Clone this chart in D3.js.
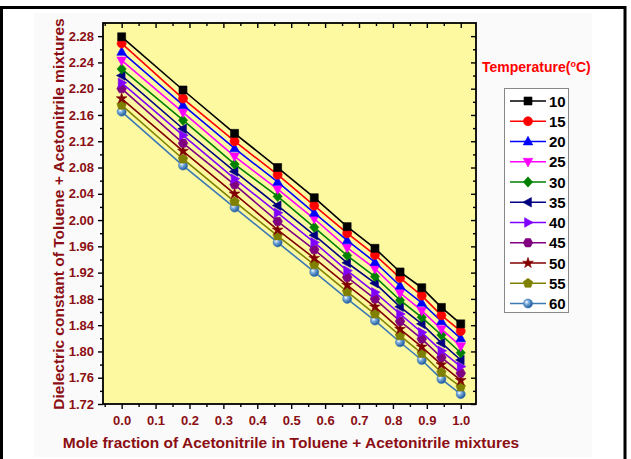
<!DOCTYPE html>
<html>
<head>
<meta charset="utf-8">
<script src="https://cdn.jsdelivr.net/npm/d3@7"></script>
<style>
  html, body { margin: 0; padding: 0; background: #ffffff; }
  svg { display: block; }
  text { font-family: Arial, "Liberation Sans", sans-serif; font-weight: bold; }
</style>
</head>
<body>
<svg id="chart" width="631" height="459"></svg>
<script>
// Mole fraction of acetonitrile
const moleFraction = [0, 0.181, 0.333, 0.460, 0.568, 0.665, 0.747, 0.821, 0.885, 0.943, 1.0];

// Temperatures (°C) for each series
const temperatures = [10, 15, 20, 25, 30, 35, 40, 45, 50, 55, 60];

// Dielectric constant per temperature
const eps10 = [2.279, 2.198, 2.132, 2.080, 2.034, 1.990, 1.957, 1.921, 1.897, 1.867, 1.842];
const eps15 = [2.269, 2.185, 2.120, 2.069, 2.022, 1.980, 1.947, 1.912, 1.885, 1.855, 1.831];
const eps20 = [2.256, 2.175, 2.109, 2.058, 2.011, 1.969, 1.936, 1.900, 1.874, 1.846, 1.820];
const eps25 = [2.243, 2.164, 2.097, 2.047, 2.002, 1.958, 1.926, 1.889, 1.862, 1.834, 1.808];
const eps30 = [2.230, 2.152, 2.085, 2.036, 1.989, 1.946, 1.914, 1.878, 1.852, 1.825, 1.798];
const eps35 = [2.220, 2.139, 2.074, 2.022, 1.977, 1.935, 1.904, 1.868, 1.842, 1.813, 1.787];
const eps40 = [2.209, 2.129, 2.063, 2.011, 1.966, 1.923, 1.890, 1.857, 1.829, 1.801, 1.777];
const eps45 = [2.200, 2.117, 2.054, 1.998, 1.955, 1.913, 1.880, 1.846, 1.819, 1.791, 1.767];
const eps50 = [2.185, 2.105, 2.040, 1.985, 1.942, 1.901, 1.868, 1.834, 1.807, 1.780, 1.756];
const eps55 = [2.175, 2.093, 2.028, 1.976, 1.932, 1.891, 1.857, 1.824, 1.797, 1.768, 1.746];
const eps60 = [2.165, 2.083, 2.019, 1.966, 1.921, 1.880, 1.847, 1.814, 1.787, 1.758, 1.735];

// Axis tick labels
const xTickValues = [0, 0.1, 0.2, 0.3, 0.4, 0.5, 0.6, 0.7, 0.8, 0.9, 1.0];
const yTickValues = [1.72, 1.76, 1.80, 1.84, 1.88, 1.92, 1.96, 2.00, 2.04, 2.08, 2.12, 2.16, 2.20, 2.24, 2.28];

const seriesValues = [eps10, eps15, eps20, eps25, eps30, eps35, eps40, eps45, eps50, eps55, eps60];
const colors = ["#000000", "#ff0000", "#0000ff", "#ff00ff", "#008000", "#000080",
                "#8000ff", "#800080", "#800000", "#808000", "#3c78b4"];
const shapes = ["square", "circle", "triUp", "triDown", "diamond", "triLeft",
                "triRight", "hexagon", "star", "pentagon", "sphere"];

const series = temperatures.map((t, i) => ({
  temp: t, color: colors[i], shape: shapes[i],
  points: moleFraction.map((x, j) => ({ x, y: seriesValues[i][j] }))
}));

const svg = d3.select("#chart");
const wine = "#8b0f14";

// page frame
svg.append("rect").attr("x", 34).attr("y", 13).attr("width", 558).attr("height", 444).attr("fill", "#fafafa");
svg.append("path").attr("d", "M1.5,459 V7.5 H625 V459")
  .attr("fill", "none").attr("stroke", "#000").attr("stroke-width", 3);

const plot = { left: 103, right: 476, top: 23, bottom: 404 };

const x = d3.scaleLinear().domain([-0.055, 1.045]).range([plot.left, plot.right]);
const y = d3.scaleLinear().domain([1.72, 2.30]).range([plot.bottom, plot.top]);

// plot background
svg.append("rect")
  .attr("x", plot.left).attr("y", plot.top)
  .attr("width", plot.right - plot.left).attr("height", plot.bottom - plot.top)
  .attr("fill", "#fcf9a0");

// minor tick positions
const xMinor = d3.range(0.05, 1.0, 0.1).map(v => +v.toFixed(2)).concat([-0.05]);
const yMinor = d3.range(1.74, 2.30, 0.04).map(v => +v.toFixed(2));

function styleAxis(g, showLabels) {
  g.select(".domain").remove();
  g.selectAll(".tick line").attr("stroke", "#000").attr("stroke-width", 1.4);
  g.selectAll(".tick text")
    .attr("fill", showLabels ? wine : "none")
    .style("font-size", "13px").style("font-weight", "bold");
}

// bottom axis (outward)
const gB = svg.append("g").attr("transform", `translate(0,${plot.bottom})`)
  .call(d3.axisBottom(x).tickValues(xTickValues).tickFormat(d3.format(".1f")).tickSize(5).tickPadding(7));
styleAxis(gB, true);
svg.append("g").attr("transform", `translate(0,${plot.bottom})`)
  .call(d3.axisBottom(x).tickValues(xMinor).tickFormat("").tickSize(3))
  .call(g => styleAxis(g, false));

// top axis (inward)
svg.append("g").attr("transform", `translate(0,${plot.top})`)
  .call(d3.axisBottom(x).tickValues(xTickValues).tickFormat("").tickSize(5))
  .call(g => styleAxis(g, false));
svg.append("g").attr("transform", `translate(0,${plot.top})`)
  .call(d3.axisBottom(x).tickValues(xMinor).tickFormat("").tickSize(3))
  .call(g => styleAxis(g, false));

// left axis (outward)
const gL = svg.append("g").attr("transform", `translate(${plot.left},0)`)
  .call(d3.axisLeft(y).tickValues(yTickValues).tickFormat(d3.format(".2f")).tickSize(5).tickPadding(4));
styleAxis(gL, true);
svg.append("g").attr("transform", `translate(${plot.left},0)`)
  .call(d3.axisLeft(y).tickValues(yMinor).tickFormat("").tickSize(3))
  .call(g => styleAxis(g, false));

// right axis (inward)
svg.append("g").attr("transform", `translate(${plot.right},0)`)
  .call(d3.axisLeft(y).tickValues(yTickValues).tickFormat("").tickSize(5))
  .call(g => styleAxis(g, false));
svg.append("g").attr("transform", `translate(${plot.right},0)`)
  .call(d3.axisLeft(y).tickValues(yMinor).tickFormat("").tickSize(3))
  .call(g => styleAxis(g, false));

// axis frame
svg.append("rect")
  .attr("x", plot.left).attr("y", plot.top)
  .attr("width", plot.right - plot.left).attr("height", plot.bottom - plot.top)
  .attr("fill", "none").attr("stroke", "#000").attr("stroke-width", 1.8);

// gradient for the sphere marker
const defs = svg.append("defs");
const grad = defs.append("radialGradient").attr("id", "sphereGrad")
  .attr("cx", "35%").attr("cy", "35%").attr("r", "65%");
grad.append("stop").attr("offset", "0%").attr("stop-color", "#ffffff");
grad.append("stop").attr("offset", "35%").attr("stop-color", "#7fb0e0");
grad.append("stop").attr("offset", "100%").attr("stop-color", "#1f5a9a");

function polygon(n, r, rot) {
  const pts = d3.range(n).map(k => {
    const a = rot + k * 2 * Math.PI / n;
    return [r * Math.cos(a), r * Math.sin(a)];
  });
  return "M" + pts.map(p => p.join(",")).join("L") + "Z";
}

function markerPath(shape) {
  switch (shape) {
    case "square": return "M-4,-4H4V4H-4Z";
    case "circle": return d3.symbol(d3.symbolCircle, 64)();
    case "triUp": return "M0,-5.2L4.8,3.4L-4.8,3.4Z";
    case "triDown": return "M0,5.2L4.8,-3.4L-4.8,-3.4Z";
    case "diamond": return "M0,-5.2L4.6,0L0,5.2L-4.6,0Z";
    case "triLeft": return "M-5.2,0L3.4,-4.8L3.4,4.8Z";
    case "triRight": return "M5.2,0L-3.4,-4.8L-3.4,4.8Z";
    case "hexagon": return polygon(6, 4.8, 0);
    case "star": return d3.symbol(d3.symbolStar, 36)();
    case "pentagon": return polygon(5, 5, -Math.PI / 2);
    case "sphere": return d3.symbol(d3.symbolCircle, 64)();
  }
}

function drawMarker(g, s) {
  g.append("path")
    .attr("d", markerPath(s.shape))
    .attr("fill", s.shape === "sphere" ? "url(#sphereGrad)" : s.color)
    .attr("stroke", s.color).attr("stroke-width", 0.6);
}

const line = d3.line().x(d => x(d.x)).y(d => y(d.y));

// series, drawn from highest temperature up so the 10 °C curve sits on top
[...series].reverse().forEach(s => {
  const g = svg.append("g");
  g.append("path").datum(s.points)
    .attr("d", line).attr("fill", "none")
    .attr("stroke", s.color).attr("stroke-width", 1.6);
  g.selectAll("g.pt").data(s.points).join("g")
    .attr("class", "pt")
    .attr("transform", d => `translate(${x(d.x)},${y(d.y)})`)
    .each(function () { drawMarker(d3.select(this), s); });
});

// axis titles
svg.append("text")
  .attr("transform", "translate(64,214) rotate(-90)")
  .attr("text-anchor", "middle")
  .attr("fill", wine).style("font-size", "15.5px")
  .text("Dielectric constant of Toluene + Acetonitrile mixtures");

svg.append("text")
  .attr("x", 291).attr("y", 448)
  .attr("text-anchor", "middle")
  .attr("fill", wine).style("font-size", "15.5px")
  .text("Mole fraction of Acetonitrile in Toluene + Acetonitrile mixtures");

// legend title
const lt = svg.append("text").attr("x", 482).attr("y", 72)
  .attr("fill", "#ff0000").style("font-size", "14px");
lt.append("tspan").text("Temperature(");
lt.append("tspan").attr("dy", -5).style("font-size", "9px").text("o");
lt.append("tspan").attr("dy", 5).text("C)");

// legend box
const legend = svg.append("g");
legend.append("rect")
  .attr("x", 504.5).attr("y", 88.5).attr("width", 64).attr("height", 224)
  .attr("fill", "#ffffff").attr("stroke", "#888").attr("stroke-width", 1);
series.forEach((s, i) => {
  const ly = 101 + i * 20.25;
  const g = legend.append("g").attr("transform", `translate(0,${ly})`);
  g.append("line").attr("x1", 510).attr("x2", 546).attr("y1", 0).attr("y2", 0)
    .attr("stroke", s.color).attr("stroke-width", 1.6);
  drawMarker(g.append("g").attr("transform", "translate(528,0)"), s);
  g.append("text").attr("x", 549).attr("y", 5.5)
    .attr("fill", "#000").style("font-size", "15px").text(s.temp);
});
</script>
</body>
</html>
